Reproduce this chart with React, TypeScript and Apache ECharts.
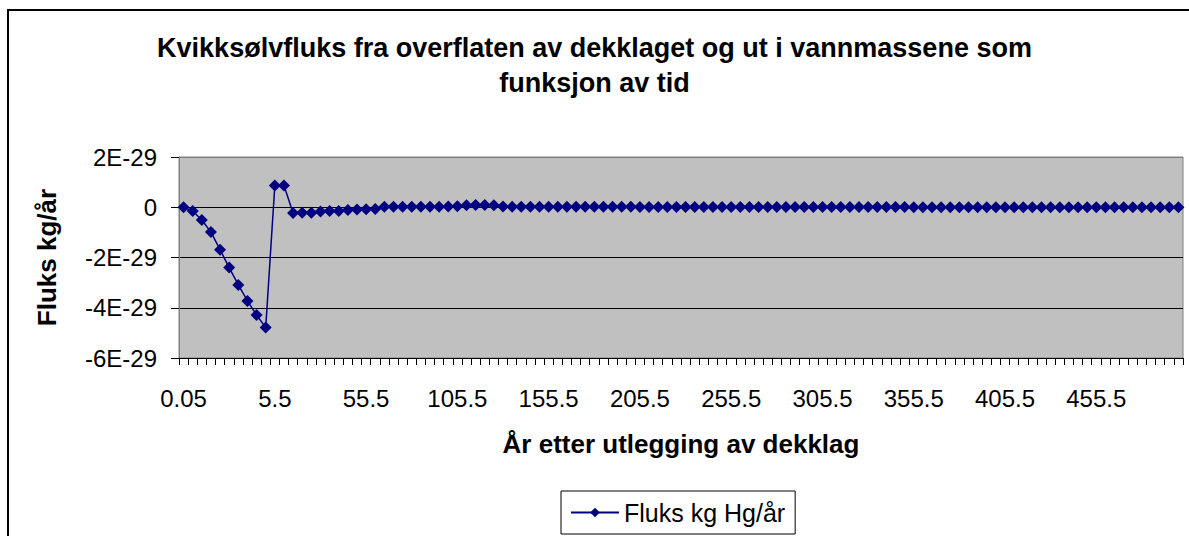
import React, { useEffect, useRef } from "react";
import * as echarts from "echarts";

const years: string[] = [
  "0.05", "0.5", "1", "1.5", "2", "2.5", "3", "3.5", "4", "4.5",
  "5.5", "10.5", "15.5", "20.5", "25.5", "30.5", "35.5", "40.5", "45.5", "50.5",
  "55.5", "60.5", "65.5", "70.5", "75.5", "80.5", "85.5", "90.5", "95.5", "100.5",
  "105.5", "110.5", "115.5", "120.5", "125.5", "130.5", "135.5", "140.5", "145.5", "150.5",
  "155.5", "160.5", "165.5", "170.5", "175.5", "180.5", "185.5", "190.5", "195.5", "200.5",
  "205.5", "210.5", "215.5", "220.5", "225.5", "230.5", "235.5", "240.5", "245.5", "250.5",
  "255.5", "260.5", "265.5", "270.5", "275.5", "280.5", "285.5", "290.5", "295.5", "300.5",
  "305.5", "310.5", "315.5", "320.5", "325.5", "330.5", "335.5", "340.5", "345.5", "350.5",
  "355.5", "360.5", "365.5", "370.5", "375.5", "380.5", "385.5", "390.5", "395.5", "400.5",
  "405.5", "410.5", "415.5", "420.5", "425.5", "430.5", "435.5", "440.5", "445.5", "450.5",
  "455.5", "460.5", "465.5", "470.5", "475.5", "480.5", "485.5", "490.5", "495.5", "500.5",
];

// Flux in units of 1E-29 kg Hg/år
const fluxE29: number[] = [
  0, -0.15, -0.51, -0.99, -1.69, -2.4, -3.09, -3.73, -4.29, -4.79,
  0.87, 0.87, -0.23, -0.22, -0.22, -0.17, -0.15, -0.15, -0.11, -0.09,
  -0.08, -0.07, 0.02, 0.02, 0.02, 0.02, 0.02, 0.02, 0.02, 0.03,
  0.04, 0.08, 0.09, 0.09, 0.08, 0.03, 0.02, 0.02, 0.02, 0.02,
  0.02, 0.02, 0.02, 0.02, 0.02, 0.02, 0.02, 0.02, 0.02, 0.02,
  0.01, 0.01, 0.01, 0.01, 0.01, 0.01, 0.01, 0.01, 0.01, 0.01,
  0.01, 0.01, 0.01, 0.01, 0.01, 0.01, 0.01, 0.01, 0.01, 0.01,
  0.01, 0.01, 0.01, 0.01, 0.01, 0.01, 0.01, 0.01, 0.01, 0.01,
  0, 0, 0, 0, 0, 0, 0, 0, 0, 0,
  0, 0, 0, 0, 0, 0, 0, 0, 0, 0,
  0, 0, 0, 0, 0, 0, 0, 0, 0, 0,
];

const yMin = -6;
const yMax = 2;
const yStep = 2;

const titleText = "Kvikksølvfluks fra overflaten av dekklaget og ut i vannmassene som\nfunksjon av tid";
const xName = "År etter utlegging av dekklag";
const yName = "Fluks kg/år";
const seriesName = "Fluks kg Hg/år";

const FONT = "'Liberation Sans', Arial, sans-serif";

export default function App() {
  const ref = useRef<HTMLDivElement>(null);
  useEffect(() => {
    if (!ref.current) return;
    const chart = echarts.init(ref.current, undefined, { renderer: "svg" });
    chart.setOption({
      animation: false,
      backgroundColor: "#ffffff",
      textStyle: { fontFamily: FONT, color: "#000" },
      title: {
        text: titleText,
        left: "center",
        top: 25,
        textStyle: { fontFamily: FONT, fontSize: 27, fontWeight: "bold", lineHeight: 35, color: "#000" },
      },
      graphic: [
        {
          type: "rect",
          shape: { x: 8, y: 10, width: 1400, height: 800 },
          style: { fill: "none", stroke: "#000", lineWidth: 2 },
          silent: true,
        },
      ],
      legend: {
        left: 561,
        top: 491,
        padding: [9, 10, 9, 9],
        borderColor: "#000",
        borderWidth: 1,
        itemWidth: 48,
        itemHeight: 12,
        textStyle: { fontFamily: FONT, fontSize: 25, color: "#000" },
        data: [seriesName],
      },
      grid: {
        left: 179,
        top: 157,
        width: 1004,
        height: 201,
        show: true,
        backgroundColor: "#C0C0C0",
        borderColor: "#808080",
        borderWidth: 1,
        containLabel: false,
      },
      xAxis: {
        type: "category",
        data: years,
        boundaryGap: true,
        name: xName,
        nameLocation: "middle",
        nameGap: 73,
        nameTextStyle: { fontFamily: FONT, fontSize: 26, fontWeight: "bold", color: "#000" },
        axisLine: { show: true, onZero: false, lineStyle: { color: "#000", width: 1 } },
        axisTick: { show: true, interval: 0, length: 7, inside: false, lineStyle: { color: "#000" } },
        axisLabel: {
          interval: 9,
          margin: 28,
          fontFamily: FONT,
          fontSize: 24,
          lineHeight: 24,
          color: "#000",
        },
        splitLine: { show: false },
      },
      yAxis: {
        type: "value",
        min: yMin,
        max: yMax,
        interval: yStep,
        name: yName,
        nameLocation: "middle",
        nameGap: 119,
        nameTextStyle: { fontFamily: FONT, fontSize: 26, fontWeight: "bold", color: "#000" },
        axisLine: { show: true, lineStyle: { color: "#808080", width: 1 } },
        axisTick: { show: true, length: 8, inside: false, lineStyle: { color: "#000" } },
        axisLabel: {
          margin: 22,
          fontFamily: FONT,
          fontSize: 24,
          color: "#000",
          formatter: (v: number) => (v === 0 ? "0" : `${v}E-29`),
        },
        splitLine: {
          show: true,
          lineStyle: { color: ["#000", "#000", "#000", "#000", "#808080"], width: 1 },
        },
      },
      series: [
        {
          name: seriesName,
          type: "line",
          data: fluxE29,
          symbol: "diamond",
          symbolSize: 12,
          showAllSymbol: true,
          lineStyle: { color: "#000080", width: 1.5 },
          itemStyle: { color: "#000080" },
        },
      ],
    });
    return () => chart.dispose();
  }, []);
  return (
    <div
      ref={ref}
      style={{ position: "absolute", left: 0, top: 0, width: 1189, height: 536 }}
    />
  );
}
